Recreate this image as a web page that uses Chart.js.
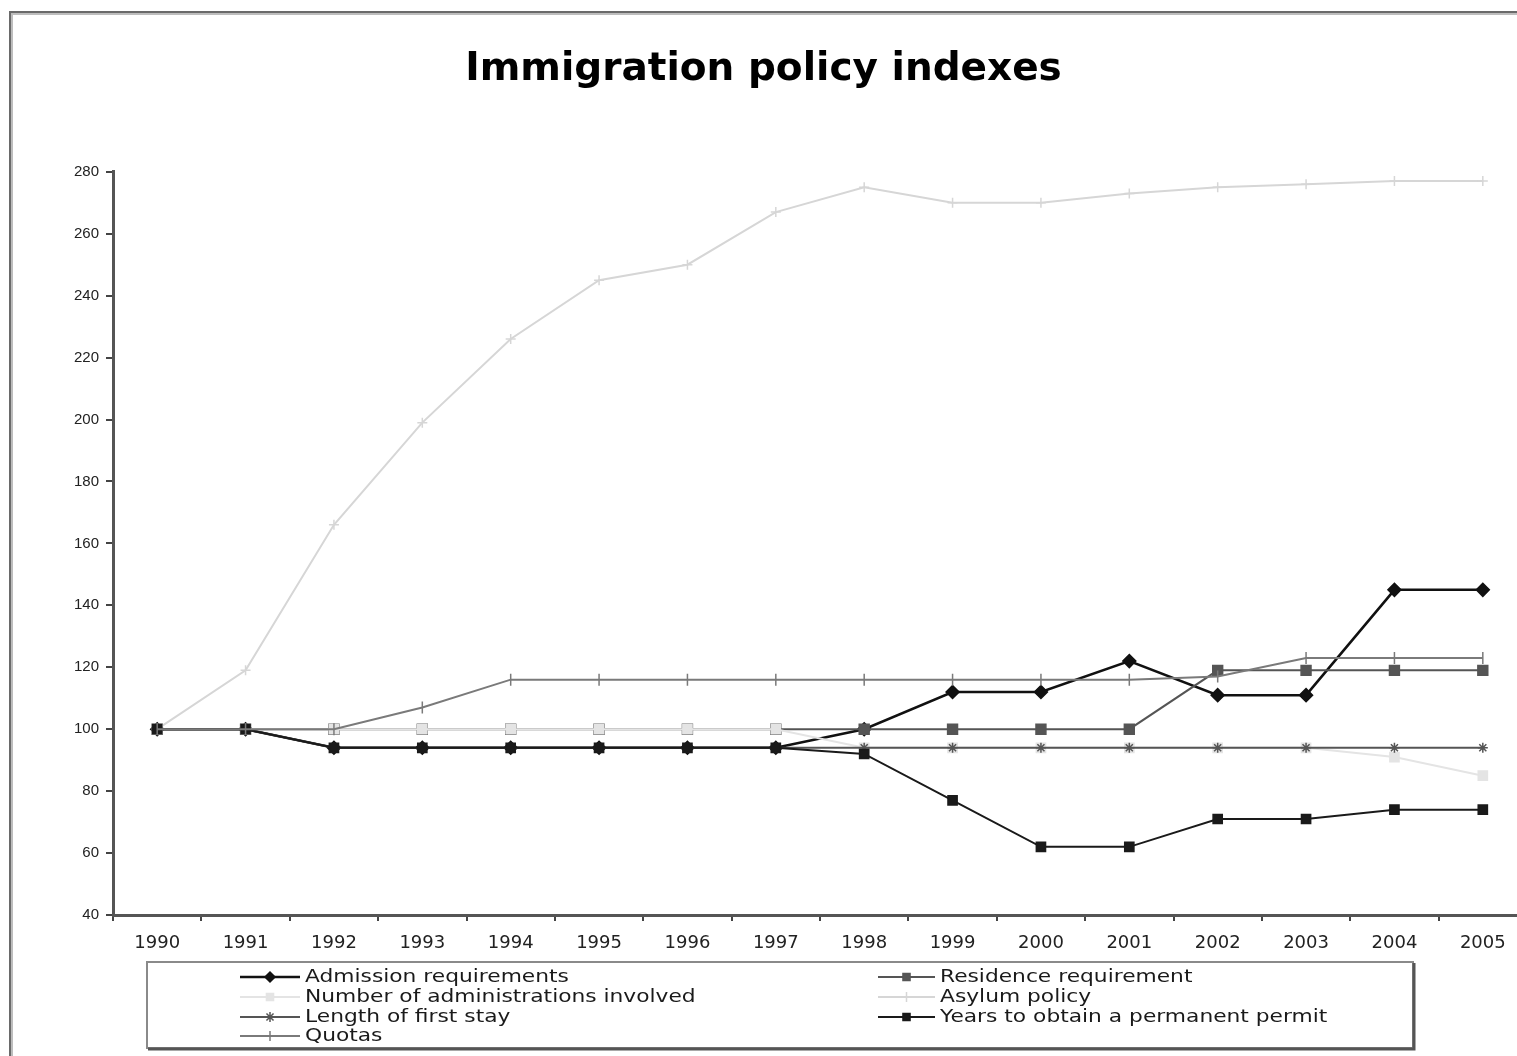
<!DOCTYPE html>
<html>
<head>
<meta charset="utf-8">
<title>Immigration policy indexes</title>
<script src="https://cdn.jsdelivr.net/npm/chart.js@4.4.0/dist/chart.umd.min.js"></script>
<style>
    html, body { margin: 0; padding: 0; background: #fff; overflow: hidden; }
    #chart { display: block; }
</style>
</head>
<body>
<canvas id="chart" width="1540" height="1056"></canvas>
<script>
// Data
const years = ["1990", "1991", "1992", "1993", "1994", "1995", "1996", "1997",
    "1998", "1999", "2000", "2001", "2002", "2003", "2004", "2005"];
const admission = [100, 100, 94, 94, 94, 94, 94, 94, 100, 112, 112, 122, 111, 111, 145, 145];
const residence = [100, 100, 100, 100, 100, 100, 100, 100, 100, 100, 100, 100, 119, 119, 119, 119];
const administrations = [100, 100, 100, 100, 100, 100, 100, 100, 94, 94, 94, 94, 94, 94, 91, 85];
const asylum = [100, 119, 166, 199, 226, 245, 250, 267, 275, 270, 270, 273, 275, 276, 277, 277];
const firstStay = [100, 100, 94, 94, 94, 94, 94, 94, 94, 94, 94, 94, 94, 94, 94, 94];
const permanentPermit = [100, 100, 94, 94, 94, 94, 94, 94, 92, 77, 62, 62, 71, 71, 74, 74];
const quotas = [100, 100, 100, 107, 116, 116, 116, 116, 116, 116, 116, 116, 117, 123, 123, 123];
const yMin = 40;
const yMax = 280;
const yStep = 20;

function serie(label, data, color, width, style, radius, idx, rot) {
    return {
        label: label,
        data: data,
        borderColor: color,
        backgroundColor: color,
        borderWidth: width,
        pointStyle: style,
        pointRadius: radius,
        pointRotation: rot || 0,
        pointBorderWidth: 1.5,
        tension: 0,
        // later series on top, like the original
        order: 10 - idx,
    };
}

// Frame around the whole chart
const framePlugin = {
    id: "frame",
    beforeDraw(chart) {
        const ctx = chart.ctx;
        ctx.save();
        ctx.fillStyle = "#fff";
        ctx.fillRect(0, 0, chart.width, chart.height);
        ctx.strokeStyle = "#bdbdbd";
        ctx.lineWidth = 2;
        ctx.beginPath();
        ctx.moveTo(12, 1056);
        ctx.lineTo(12, 14);
        ctx.lineTo(1540, 14);
        ctx.stroke();
        ctx.strokeStyle = "#6a6a6a";
        ctx.beginPath();
        ctx.moveTo(10, 1056);
        ctx.lineTo(10, 12);
        ctx.lineTo(1540, 12);
        ctx.stroke();
        ctx.restore();
    },
};

// Boxed legend in two columns
const legendPlugin = {
    id: "boxLegend",
    afterDraw(chart) {
        const ctx = chart.ctx;
        ctx.save();
        ctx.strokeStyle = "#8a8a8a";
        ctx.lineWidth = 2;
        ctx.strokeRect(147, 962, 1266, 86);
        ctx.strokeStyle = "#555";
        ctx.lineWidth = 3;
        ctx.beginPath();
        ctx.moveTo(148, 1049);
        ctx.lineTo(1414, 1049);
        ctx.lineTo(1414, 963);
        ctx.stroke();

        const cols = [{ x0: 240, x1: 300, tx: 305 }, { x0: 878, x1: 935, tx: 940 }];
        const rows = [977, 997, 1017, 1036];
        chart.data.datasets.forEach(function (ds, i) {
            const c = cols[i % 2];
            const y = rows[Math.floor(i / 2)];
            ctx.strokeStyle = ds.borderColor;
            ctx.fillStyle = ds.backgroundColor;
            ctx.lineWidth = ds.borderWidth;
            ctx.beginPath();
            ctx.moveTo(c.x0, y);
            ctx.lineTo(c.x1, y);
            ctx.stroke();
            ctx.lineWidth = 1.5;
            Chart.helpers.drawPoint(ctx, {
                pointStyle: ds.pointStyle,
                radius: Math.min(ds.pointRadius, 5),
                rotation: ds.pointRotation,
                borderWidth: 1.5,
            }, (c.x0 + c.x1) / 2, y);

            ctx.fillStyle = "#1a1a1a";
            ctx.font = "17px 'DejaVu Sans'";
            ctx.textBaseline = "middle";
            ctx.save();
            ctx.translate(c.tx, y + 1);
            ctx.scale(1.28, 1);
            ctx.fillText(ds.label, 0, 0);
            ctx.restore();
        });
        ctx.restore();
    },
};

new Chart(document.getElementById("chart"), {
    type: "line",
    data: {
        labels: years,
        datasets: [
            serie("Admission requirements", admission, "#111", 2.5, "rectRot", 6.5, 0),
            serie("Residence requirement", residence, "#555", 2, "rect", 7, 1),
            serie("Number of administrations involved", administrations, "#e4e4e4", 2, "rect", 6.5, 2),
            serie("Asylum policy", asylum, "#d6d6d6", 2, "cross", 5, 3),
            serie("Length of first stay", firstStay, "#555", 2, "star", 5, 4),
            serie("Years to obtain a permanent permit", permanentPermit, "#1a1a1a", 2, "rect", 6.5, 5),
            serie("Quotas", quotas, "#7a7a7a", 2, "line", 6, 6, 90),
        ],
    },
    options: {
        responsive: false,
        animation: false,
        layout: {
            padding: { left: 0, right: 13, top: 0, bottom: 0 },
        },
        plugins: {
            legend: { display: false },
            tooltip: { enabled: false },
            title: {
                display: true,
                text: "Immigration policy indexes",
                color: "#000",
                font: { family: "'DejaVu Sans'", size: 39, weight: "bold", lineHeight: 1.2 },
                padding: { top: 46, bottom: 79 },
            },
        },
        scales: {
            x: {
                offset: true,
                grid: {
                    offset: true,
                    drawOnChartArea: false,
                    drawTicks: true,
                    tickLength: 6,
                    tickColor: "#444",
                    lineWidth: 2,
                },
                border: { display: true, color: "#555", width: 3 },
                ticks: {
                    color: "#222",
                    padding: 12,
                    maxRotation: 0,
                    autoSkip: false,
                    font: { family: "'DejaVu Sans'", size: 18 },
                },
                afterFit(scale) {
                    scale.height = 141;
                },
            },
            y: {
                min: yMin,
                max: yMax,
                grid: {
                    drawOnChartArea: false,
                    drawTicks: true,
                    tickLength: 7,
                    tickColor: "#444",
                    lineWidth: 2,
                },
                border: { display: true, color: "#555", width: 3 },
                ticks: {
                    stepSize: yStep,
                    color: "#222",
                    padding: 7,
                    font: { family: "'Liberation Sans', Arial", size: 15 },
                },
                afterFit(scale) {
                    scale.width = 113;
                },
            },
        },
    },
    plugins: [framePlugin, legendPlugin],
});
</script>
</body>
</html>
